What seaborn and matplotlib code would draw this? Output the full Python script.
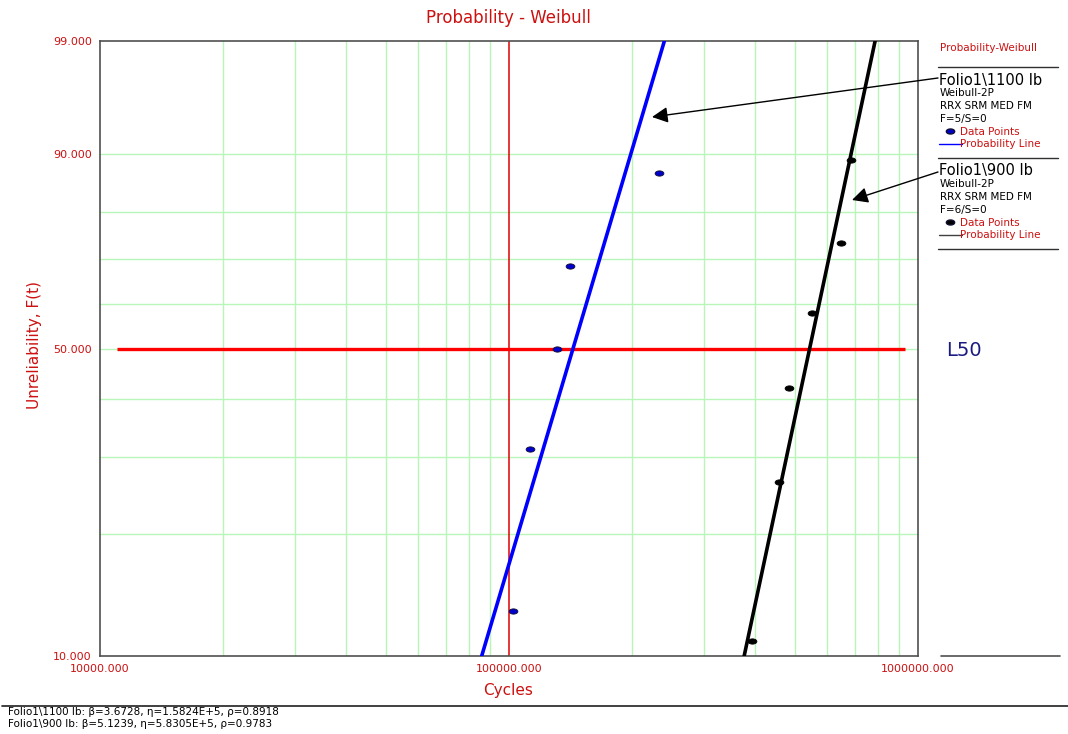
import numpy as np
import pandas as pd
import matplotlib
matplotlib.use("Agg")
import matplotlib.pyplot as plt
from matplotlib.lines import Line2D
from matplotlib.path import Path
from matplotlib.ticker import FixedLocator, NullFormatter
import seaborn as sns

# ---- data -------------------------------------------------------------
# Folio1\1100 lb: failure times (cycles) and median-rank unreliability (%)
cycles_1100 = [102300, 112500, 131000, 141000, 232600]
unrel_1100 = [12.94, 31.38, 50.00, 68.62, 87.06]
# Folio1\900 lb
cycles_900 = [392800, 457200, 483700, 550700, 648100, 685800]
unrel_900 = [10.91, 26.44, 42.14, 57.86, 73.56, 89.09]

# Weibull-2P fit parameters
beta_1100, eta_1100, rho_1100 = 3.6728, 1.5824e5, 0.8918
beta_900, eta_900, rho_900 = 5.1239, 5.8305e5, 0.9783

x_ticks = [1e4, 1e5, 1e6]
x_tick_labels = ["10000.000", "100000.000", "1000000.000"]
y_ticks = [10, 50, 90, 99]
y_tick_labels = ["10.000", "50.000", "90.000", "99.000"]
y_grid = [20, 30, 40, 50, 60, 70, 80, 90]
x_grid = [m * 10 ** e for e in (4, 5) for m in range(2, 10)]
ref_cycles = 1e5
l50_level = 50
l50_extent = [11000, 930000]

# ---- style ------------------------------------------------------------
W, H = 1068, 734
sns.set_style("white")
plt.rcParams["font.family"] = ["DejaVu Sans"]
RED = "#cc1111"
GRID = "#b8f5b8"
SPINE = "#505050"


def fpos(x, y):
    """pixel position -> figure fraction"""
    return x / W, 1 - y / H


def weib_fwd(F):
    F = np.clip(np.asarray(F, dtype=float), 1e-9, 100 - 1e-9)
    return np.log(-np.log(1 - F / 100.0))


def weib_inv(y):
    y = np.asarray(y, dtype=float)
    return 100.0 * (1 - np.exp(-np.exp(y)))


def weibull_line(beta, eta, F):
    F = np.asarray(F, dtype=float)
    return eta * (-np.log(1 - F / 100.0)) ** (1.0 / beta)


# ellipse marker for the data points
theta = np.linspace(0, 2 * np.pi, 40)
ellipse = Path(np.column_stack([np.cos(theta), 0.6 * np.sin(theta)]), closed=True)

fig = plt.figure(figsize=(W / 100, H / 100), dpi=100)
ax = fig.add_axes([100 / W, 1 - 656 / H, 818 / W, 615 / H])
ax.set_xscale("log")
ax.set_yscale("function", functions=(weib_fwd, weib_inv))
ax.set_xlim(1e4, 1e6)
ax.set_ylim(10, 99)

# grid
for gx in x_grid:
    ax.axvline(gx, color=GRID, lw=1.0, zorder=0)
for gy in y_grid:
    ax.axhline(gy, color=GRID, lw=1.0, zorder=0)

# reference lines
ax.axvline(ref_cycles, color="#e00000", lw=1.1, zorder=1)
ax.plot(l50_extent, [l50_level, l50_level], color="#ff0000", lw=2.4, zorder=2,
        solid_capstyle="butt")

# fitted probability lines
F_span = np.array([10.0, 99.0])
fit_1100 = pd.DataFrame({"t": weibull_line(beta_1100, eta_1100, F_span), "F": F_span})
fit_900 = pd.DataFrame({"t": weibull_line(beta_900, eta_900, F_span), "F": F_span})
sns.lineplot(data=fit_1100, x="t", y="F", color="#0000ff", lw=2.6, ax=ax,
             sort=False, estimator=None, zorder=3)
sns.lineplot(data=fit_900, x="t", y="F", color="#000000", lw=2.6, ax=ax,
             sort=False, estimator=None, zorder=3)

# data points
pts_1100 = pd.DataFrame({"t": cycles_1100, "F": unrel_1100})
pts_900 = pd.DataFrame({"t": cycles_900, "F": unrel_900})
sns.scatterplot(data=pts_1100, x="t", y="F", marker=ellipse, s=40, color="#0000cc",
                edgecolor="#101030", linewidth=0.6, ax=ax, zorder=4)
sns.scatterplot(data=pts_900, x="t", y="F", marker=ellipse, s=40, color="#000000",
                edgecolor="#000000", linewidth=0.6, ax=ax, zorder=4)

# axes, ticks, labels
ax.xaxis.set_major_locator(FixedLocator(x_ticks))
ax.xaxis.set_minor_locator(FixedLocator([]))
ax.set_xticklabels(x_tick_labels)
ax.yaxis.set_major_locator(FixedLocator(y_ticks))
ax.yaxis.set_minor_locator(FixedLocator([]))
ax.yaxis.set_minor_formatter(NullFormatter())
ax.set_yticklabels(y_tick_labels)
ax.tick_params(axis="both", which="major", direction="out", length=4, width=1,
               color=SPINE, labelcolor=RED, labelsize=8, pad=2)
for side in ("left", "right", "top", "bottom"):
    ax.spines[side].set_visible(True)
    ax.spines[side].set_color(SPINE)
    ax.spines[side].set_linewidth(1.2)
ax.set_xlabel("")
ax.set_ylabel("")

fig.text(*fpos(508, 18), "Probability - Weibull", color=RED, fontsize=12,
         ha="center", va="center")
fig.text(*fpos(508, 690), "Cycles", color=RED, fontsize=11, ha="center", va="center")
fig.text(*fpos(35, 345), "Unreliability, F(t)", color=RED, fontsize=11,
         ha="center", va="center", rotation=90)
fig.text(*fpos(946, 351), "L50", color="#1a1a80", fontsize=14, ha="left", va="center")

# ---- side legend --------------------------------------------------------
def hline(x0, x1, y, color="#303030", lw=1.0):
    a, b = fpos(x0, y)
    c, _ = fpos(x1, y)
    fig.add_artist(Line2D([a, c], [b, b], transform=fig.transFigure, color=color, lw=lw))


fig.text(*fpos(940, 48), "Probability-Weibull", color=RED, fontsize=7.5,
         ha="left", va="center")
hline(938, 1058, 67)

blocks = [
    (80, "Folio1\\1100 lb", len(cycles_1100), "#0000cc", "#0000ff"),
    (171, "Folio1\\900 lb", len(cycles_900), "#000000", "#404040"),
]
for y0, name, n, pcol, lcol in blocks:
    fig.text(*fpos(939, y0), name, color="black", fontsize=10.5, ha="left", va="center")
    fig.text(*fpos(940, y0 + 13), "Weibull-2P", color="black", fontsize=7.5,
             ha="left", va="center")
    fig.text(*fpos(940, y0 + 26), "RRX SRM MED FM", color="black", fontsize=7.5,
             ha="left", va="center")
    fig.text(*fpos(940, y0 + 39), f"F={n}/S=0", color="black", fontsize=7.5,
             ha="left", va="center")
    mx, my = fpos(950, y0 + 51)
    fig.add_artist(Line2D([mx], [my], transform=fig.transFigure, marker=ellipse,
                          markersize=6, color=pcol, markeredgecolor="#101030", lw=0))
    fig.text(*fpos(960, y0 + 52), "Data Points", color=RED, fontsize=7.5,
             ha="left", va="center")
    hline(939, 962, y0 + 64, color=lcol, lw=1.0)
    fig.text(*fpos(960, y0 + 64), "Probability Line", color=RED, fontsize=7.5,
             ha="left", va="center")
    hline(938, 1058, y0 + 78)

# arrows from legend entries to their lines
for (x0, y0), (x1, y1) in [((938, 78), (652, 117)), ((938, 172), (852, 200))]:
    ax.annotate("", xy=fpos(x1, y1), xycoords="figure fraction",
                xytext=fpos(x0, y0), textcoords="figure fraction",
                arrowprops=dict(arrowstyle="-|>", color="black", lw=1.0,
                                mutation_scale=24, shrinkA=0, shrinkB=0))

# frame pieces outside the plot
hline(941, 1060, 656, color=SPINE, lw=1.2)
hline(2, 1068, 706, color="#202020", lw=1.2)

# ---- footer with fit summary --------------------------------------------
fig.text(*fpos(8, 712),
         f"Folio1\\1100 lb: β={beta_1100:.4f}, η={eta_1100:.4E}, ρ={rho_1100:.4f}"
         .replace("E+05", "E+5"),
         color="black", fontsize=7.5, ha="left", va="center")
fig.text(*fpos(8, 724),
         f"Folio1\\900 lb: β={beta_900:.4f}, η={eta_900:.4E}, ρ={rho_900:.4f}"
         .replace("E+05", "E+5"),
         color="black", fontsize=7.5, ha="left", va="center")

fig.savefig("out.png", dpi=100)
